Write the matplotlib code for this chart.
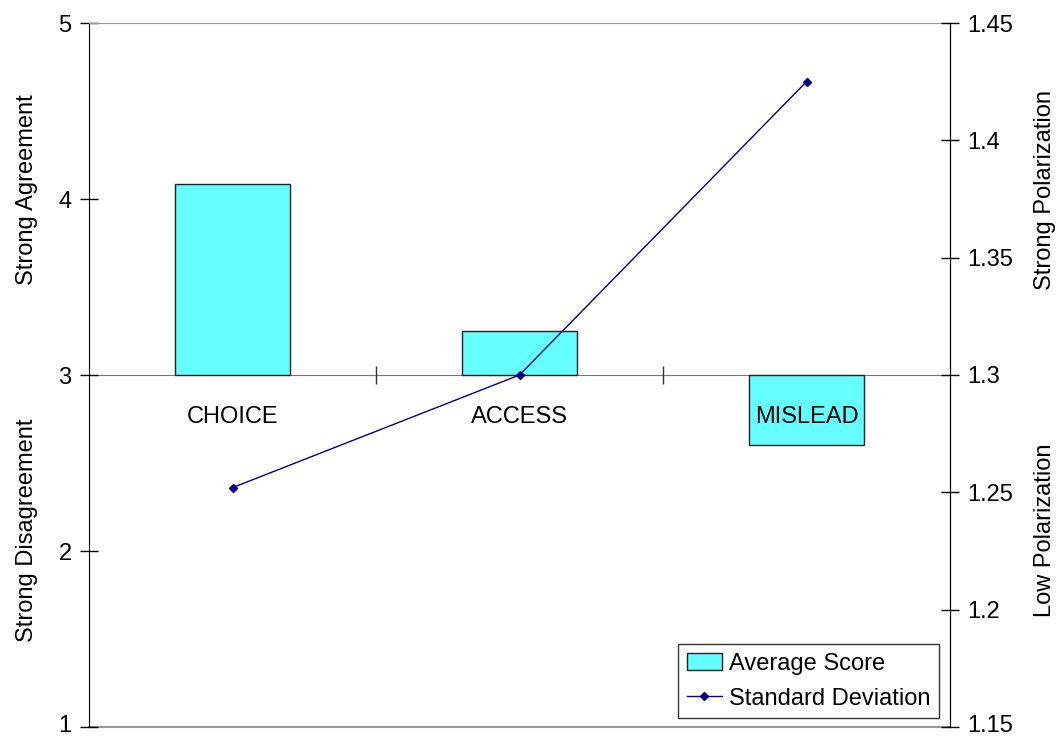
import numpy as np
import matplotlib.pyplot as plt
import matplotlib.transforms as mtransforms

plt.rcParams['font.family'] = ['Liberation Sans', 'DejaVu Sans']

# categorias y valores
categorias = ['CHOICE', 'ACCESS', 'MISLEAD']
puntuacion_media = [4.085, 3.25, 2.60]
desviacion = [1.252, 1.30, 1.425]
base = 3  # punto neutro de la escala

fs = 17

fig = plt.figure(figsize=(10.6, 7.37), dpi=100)
ax = fig.add_axes([89 / 1060, 10 / 737, 861 / 1060, 704 / 737])

x = np.arange(len(categorias))
alturas = [v - base for v in puntuacion_media]
ax.bar(x, alturas, bottom=base, width=0.4, color='#66ffff',
       edgecolor='#222222', linewidth=1.0, zorder=2, label='Average Score')

ax.set_xlim(-0.5, 2.5)
ax.set_ylim(1, 5)
ax.set_yticks([1, 2, 3, 4, 5])
ax.tick_params(axis='y', direction='inout', length=13, width=1.0, labelsize=fs, pad=6)

# eje x cruzando en 3
ax.spines['bottom'].set_position(('data', base))
ax.spines['bottom'].set_color('#777777')
ax.spines['bottom'].set_zorder(1)
ax.spines['top'].set_color('#999999')
ax.spines['left'].set_color('black')
ax.spines['right'].set_color('black')
ax.set_xticks([0.5, 1.5])
ax.set_xticklabels([])
ax.tick_params(axis='x', direction='inout', length=13, width=1.0, color='#333333')
ax.axhline(1, color='#999999', lw=1.5, zorder=0, clip_on=False)

for i, cat in enumerate(categorias):
    ax.annotate(cat, (i, base), xytext=(0, -22), textcoords='offset points',
                ha='center', va='top', fontsize=fs, zorder=10)

# desviacion estandar en eje derecho
ax2 = ax.twinx()
ax2.plot(x, desviacion, color='#000080', lw=1.0, marker='D', markersize=4,
         label='Standard Deviation', zorder=5)
ax2.set_ylim(1.15, 1.45)
ax2.set_yticks([1.15, 1.2, 1.25, 1.3, 1.35, 1.4, 1.45])
ax2.set_yticklabels(['1.15', '1.2', '1.25', '1.3', '1.35', '1.4', '1.45'])
ax2.tick_params(axis='y', direction='inout', length=13, width=1.0, labelsize=fs, pad=6)
for s in ['top', 'bottom', 'left']:
    ax2.spines[s].set_visible(False)
ax2.spines['right'].set_color('black')

# subir un poco las etiquetas inferiores para que no se corten
subir = mtransforms.ScaledTranslation(0, 0.04, fig.dpi_scale_trans)
ax.get_yticklabels()[0].set_transform(ax.get_yticklabels()[0].get_transform() + subir)
ax2.get_yticklabels()[0].set_transform(ax2.get_yticklabels()[0].get_transform() + subir)

h1, l1 = ax.get_legend_handles_labels()
h2, l2 = ax2.get_legend_handles_labels()
leg = ax2.legend(h1 + h2, l1 + l2, loc='lower right', bbox_to_anchor=(0.987, 0.013),
                 borderaxespad=0, fontsize=fs, frameon=True, fancybox=False,
                 edgecolor='black', handlelength=1.5, handletextpad=0.3,
                 borderpad=0.35, labelspacing=0.55)
leg.get_frame().set_linewidth(1.0)

fig.text(27 / 1060, 1 - 190 / 737, 'Strong Agreement', rotation=90, ha='center', va='center', fontsize=fs)
fig.text(27 / 1060, 1 - 530 / 737, 'Strong Disagreement', rotation=90, ha='center', va='center', fontsize=fs)
fig.text(1045 / 1060, 1 - 190 / 737, 'Strong Polarization', rotation=90, ha='center', va='center', fontsize=fs)
fig.text(1045 / 1060, 1 - 530 / 737, 'Low Polarization', rotation=90, ha='center', va='center', fontsize=fs)

fig.savefig('out.png', dpi=100)
